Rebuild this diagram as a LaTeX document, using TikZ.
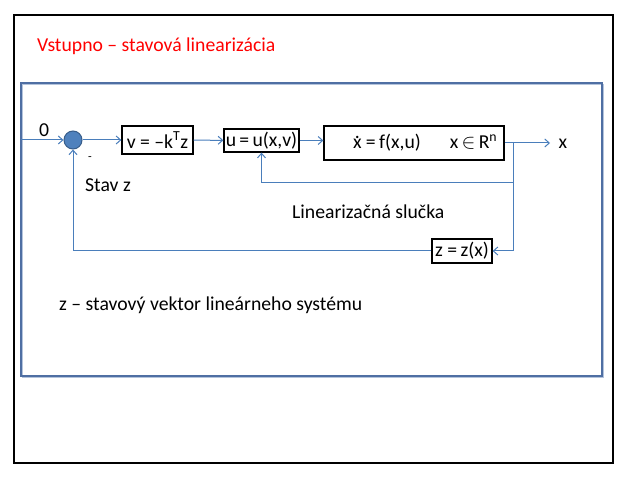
\documentclass[tikz,border=0pt]{standalone}
\usepackage{fontspec}
\setmainfont{Carlito}
\usetikzlibrary{arrows.meta}
\definecolor{linkblue}{HTML}{4A7EBB}
\definecolor{framblue}{HTML}{4F6FA3}
\definecolor{shadblue}{HTML}{B4C4DC}
\definecolor{sumfill}{HTML}{4F81BD}
\definecolor{sumedge}{HTML}{385D8A}
\newcommand\xdotted{\ooalign{x\cr\hidewidth\raisebox{0.5em}{.}\hidewidth\cr}}
\tikzset{
  txt/.style={font=\fontsize{19.7}{23}\selectfont, inner sep=0pt},
  blk/.style={draw=black, line width=1.3pt, inner sep=0pt,
    font=\fontsize{19.7}{23}\selectfont},
  link/.style={draw=linkblue, line width=1pt},
  arr/.style={link, -{Straight Barb[length=4.5pt,width=8pt]}}
}
\begin{document}
\begin{tikzpicture}[x=1pt,y=-1pt]
\useasboundingbox (0,0) rectangle (627,478);
% slide frame
\draw[line width=2pt] (14,15) rectangle (613,463);
% panel frame with soft shadow
\draw[shadblue, line width=1.2pt] (22.3,84.3) rectangle (603.3,377.3);
\draw[framblue, line width=1.5pt] (21,83) rectangle (602,376);
% heading
\node[txt, text=red, anchor=west] (title) at (37,46) {Vstupno – stavová linearizácia};

% blocks
\node[circle, fill=sumfill, draw=sumedge, line width=1pt, minimum size=18pt, inner sep=0pt] (sum) at (73,140) {};
\node[blk, minimum width=71pt, minimum height=28pt] (b1) at (157.5,140)
  {\raisebox{-5pt}{v = –k\textsuperscript{T}z}};
\node[blk, minimum width=75pt, minimum height=23pt] (b2) at (261.5,140.5) {u\,=\,u(x,v)};
\node[blk, minimum width=180pt, minimum height=34pt] (b3) at (414,143)
  {\makebox[180pt][l]{\hspace{29pt}\xdotted\ =\,f(x,u)\hspace{29pt}x\,$\in$\,R\textsuperscript{n}}};
\node[blk, minimum width=60pt, minimum height=24pt, line width=1.2pt] (b4) at (462,251) {z =\,z(x)};

% signal points
\coordinate (in0) at (21,140);
\coordinate (out) at (550,143);
\coordinate (br) at (513,143);
\coordinate (lp) at (513,183);

% forward path
\draw[arr] (in0) -- (sum);
\draw[arr] (sum) -- (b1);
\draw[arr] (b1) -- (b2);
\draw[arr] (b2) -- (b3.west |- b2);
\draw[arr] (b3.east) -- (out);
% feedback paths
\draw[arr] (br) |- (b4);
\draw[arr] (b4.west) -| (sum.south);
\draw[arr] (lp) -| (b2.south);

% labels
\node[txt] (zero) at (44,130) {0};
\node[txt, font=\fontsize{12}{14}\selectfont] (minus) at (90,159) {-};
\node[txt, anchor=west] (stav) at (85,185) {Stav z};
\node[txt] (xout) at (563,144) {x};
\node[txt, anchor=west] (loop) at (292,212) {Linearizačná slučka};
\node[txt, anchor=west] (note) at (59,305) {z – stavový vektor lineárneho systému};
\end{tikzpicture}
\end{document}
